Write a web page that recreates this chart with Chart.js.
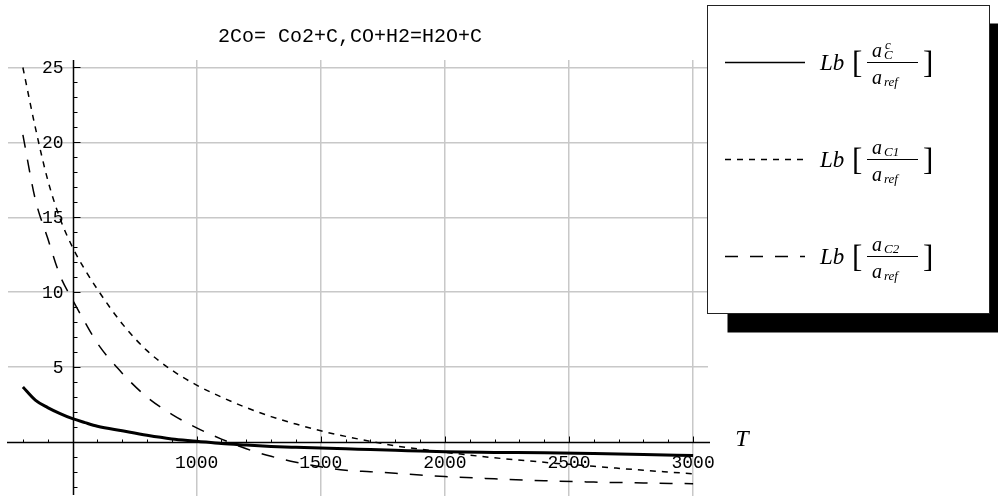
<!DOCTYPE html>
<html>
<head>
<meta charset="utf-8">
<script src="https://cdn.jsdelivr.net/npm/chart.js@4.4.1/dist/chart.umd.min.js"></script>
<style>
html, body { margin: 0; padding: 0; background: #fff; }
#box { position: relative; width: 998px; height: 497px; }
</style>
</head>
<body>
<div id="box"><canvas id="grafico"></canvas></div>
<script>
// Temperature (T) and the three Lb curves
const temperature = [300, 350, 400, 450, 500, 550, 600, 700, 800, 900, 1000, 1100, 1200, 1300, 1400, 1500, 1600, 1700, 1800, 1900, 2000, 2200, 2400, 2600, 2800, 3000];
const lbC  = [3.68, 2.8, 2.3, 1.9, 1.56, 1.3, 1.06, 0.75, 0.45, 0.21, 0.06, -0.1, -0.2, -0.29, -0.35, -0.4, -0.45, -0.5, -0.55, -0.6, -0.65, -0.69, -0.72, -0.77, -0.83, -0.9];
const lbC1 = [25.0, 21.0, 17.5, 14.9, 13.0, 11.5, 10.2, 7.9, 6.1, 4.8, 3.8, 3.0, 2.3, 1.7, 1.2, 0.75, 0.38, 0.05, -0.25, -0.48, -0.68, -1.05, -1.35, -1.62, -1.88, -2.12];
const lbC2 = [20.5, 16.2, 13.6, 11.1, 9.5, 8.0, 6.6, 4.6, 3.0, 1.85, 0.95, 0.2, -0.45, -0.95, -1.35, -1.65, -1.88, -1.98, -2.08, -2.2, -2.3, -2.45, -2.58, -2.67, -2.73, -2.78];

const xTickLabels = [1000, 1500, 2000, 2500, 3000];
const yTickLabels = [5, 10, 15, 20, 25];
const seriesNames = ['Lb[a_C^c/a_ref]', 'Lb[a_C1/a_ref]', 'Lb[a_C2/a_ref]'];
const legendSub = ['C', 'C1', 'C2'];
const legendSup = ['c', '', ''];
const titolo = '2Co= Co2+C,CO+H2=H2O+C';

const monoFont = '"Liberation Mono", "DejaVu Sans Mono", monospace';
const serifFont = '"Liberation Serif", "DejaVu Serif", serif';

function punti(valori) {
    return temperature.map((t, i) => ({ x: t, y: valori[i] }));
}

// axes through (500, 0) with small ticks, like the original
const assi = {
    id: 'assi',
    beforeDatasetsDraw(chart) {
        const { ctx, chartArea: a, scales: { x, y } } = chart;
        const x0 = Math.round(x.getPixelForValue(500)) + 0.5;
        const y0 = Math.round(y.getPixelForValue(0)) + 0.5;
        ctx.save();
        ctx.strokeStyle = '#000';
        ctx.lineWidth = 1.5;
        ctx.beginPath();
        ctx.moveTo(a.left - 1, y0); ctx.lineTo(a.right + 2, y0);
        ctx.moveTo(x0, a.top); ctx.lineTo(x0, a.bottom - 1);
        ctx.stroke();

        ctx.lineWidth = 1;
        ctx.beginPath();
        for (let t = 300; t <= 3000; t += 100) {
            const px = Math.round(x.getPixelForValue(t)) + 0.5;
            const len = t % 500 === 0 ? 6 : 3;
            ctx.moveTo(px, y0); ctx.lineTo(px, y0 - len);
        }
        for (let v = -3; v <= 25; v++) {
            const py = Math.round(y.getPixelForValue(v)) + 0.5;
            const len = v % 5 === 0 ? 7 : 4;
            ctx.moveTo(x0, py); ctx.lineTo(x0 + len, py);
        }
        ctx.stroke();

        ctx.fillStyle = '#000';
        ctx.font = '18px ' + monoFont;
        ctx.textAlign = 'center';
        ctx.textBaseline = 'middle';
        xTickLabels.forEach(t => ctx.fillText(String(t), x.getPixelForValue(t), y0 + 21));
        ctx.textAlign = 'right';
        yTickLabels.forEach(v => ctx.fillText(String(v), x0 - 10, y.getPixelForValue(v) + 1));
        ctx.restore();
    },
    afterDraw(chart) {
        const { ctx, scales: { y } } = chart;
        ctx.save();
        ctx.fillStyle = '#000';
        // title
        ctx.font = '20px ' + monoFont;
        ctx.textAlign = 'center';
        ctx.textBaseline = 'middle';
        ctx.fillText(titolo, 350, 37);
        // T label
        ctx.font = 'italic 24px ' + serifFont;
        ctx.fillText('T', 742, y.getPixelForValue(0) - 2);

        // legend box with shadow
        const bx = 707.5, by = 5.5, bw = 282, bh = 308;
        ctx.fillStyle = '#000';
        ctx.fillRect(bx + 20, by + 18, bw, bh + 1);
        ctx.fillStyle = '#fff';
        ctx.fillRect(bx, by, bw, bh);
        ctx.strokeStyle = '#222';
        ctx.lineWidth = 1;
        ctx.strokeRect(bx, by, bw, bh);

        chart.data.datasets.forEach((ds, i) => {
            const cy = 62 + i * 97;
            ctx.strokeStyle = '#000';
            ctx.lineWidth = 1.3;
            ctx.setLineDash(ds.borderDash || []);
            ctx.beginPath();
            ctx.moveTo(725, cy + 0.5); ctx.lineTo(805, cy + 0.5);
            ctx.stroke();
            ctx.setLineDash([]);

            ctx.fillStyle = '#000';
            ctx.textAlign = 'left';
            ctx.textBaseline = 'alphabetic';
            ctx.font = 'italic 23px ' + serifFont;
            ctx.fillText('Lb', 820, cy + 8);
            ctx.font = '31px ' + serifFont;
            ctx.fillText('[', 852, cy + 11);
            ctx.fillText(']', 923, cy + 11);
            // fraction
            ctx.lineWidth = 1;
            ctx.beginPath();
            ctx.moveTo(867, cy + 0.5); ctx.lineTo(918, cy + 0.5);
            ctx.stroke();
            ctx.font = 'italic 20px ' + serifFont;
            ctx.fillText('a', 872, cy - 5);
            ctx.fillText('a', 872, cy + 22);
            ctx.font = 'italic 13px ' + serifFont;
            ctx.fillText(legendSub[i], 884, cy - 3);
            if (legendSup[i]) ctx.fillText(legendSup[i], 885, cy - 13);
            ctx.fillText('ref', 884, cy + 24);
        });
        ctx.restore();
    }
};

new Chart(document.getElementById('grafico'), {
    type: 'line',
    data: {
        datasets: [
            { label: seriesNames[0], data: punti(lbC), borderColor: '#000', borderWidth: 3, borderDash: [] },
            { label: seriesNames[1], data: punti(lbC1), borderColor: '#000', borderWidth: 1.5, borderDash: [6, 6] },
            { label: seriesNames[2], data: punti(lbC2), borderColor: '#000', borderWidth: 1.5, borderDash: [13, 12] }
        ]
    },
    options: {
        responsive: true,
        maintainAspectRatio: false,
        animation: false,
        layout: { padding: { left: 8, right: 290, top: 60, bottom: 1 } },
        elements: {
            point: { radius: 0 },
            line: { cubicInterpolationMode: 'monotone', fill: false }
        },
        plugins: {
            legend: { display: false },
            title: { display: false },
            tooltip: { enabled: false }
        },
        scales: {
            x: {
                type: 'linear',
                min: 240,
                max: 3060,
                afterBuildTicks: s => { s.ticks = xTickLabels.map(v => ({ value: v })); },
                ticks: { display: false },
                border: { display: false },
                grid: { color: '#c8c8c8', lineWidth: 1.5, drawTicks: false }
            },
            y: {
                type: 'linear',
                min: -3.6,
                max: 25.5,
                afterBuildTicks: s => { s.ticks = yTickLabels.map(v => ({ value: v })); },
                ticks: { display: false },
                border: { display: false },
                grid: { color: '#c8c8c8', lineWidth: 1.5, drawTicks: false }
            }
        }
    },
    plugins: [assi]
});
</script>
</body>
</html>
